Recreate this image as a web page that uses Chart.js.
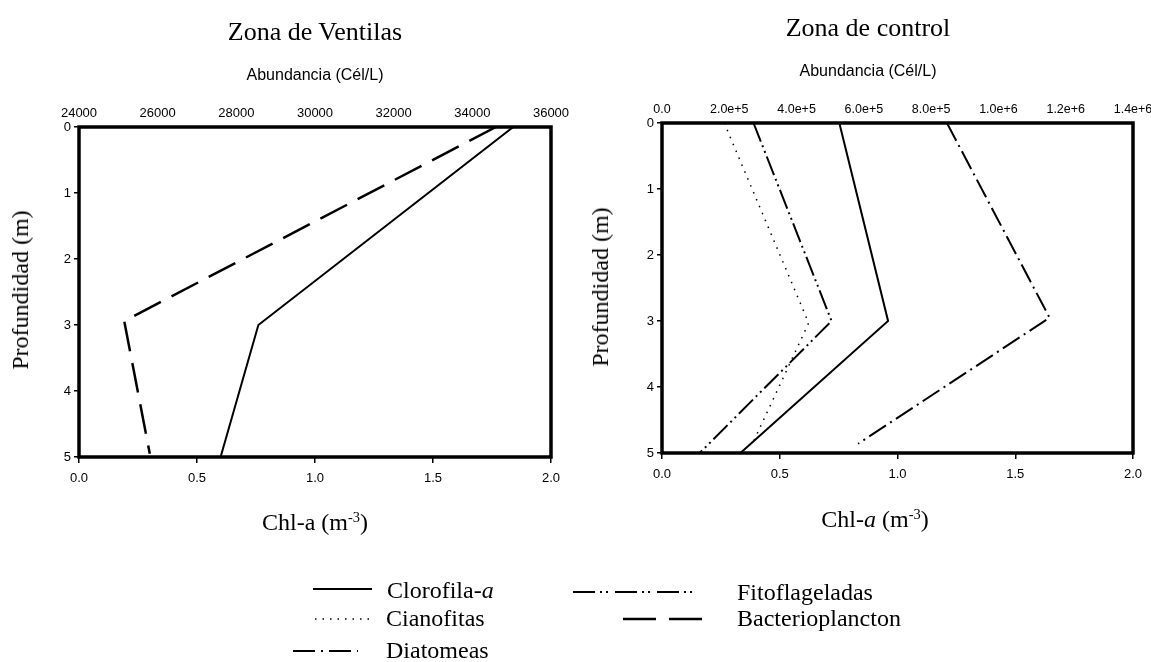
<!DOCTYPE html>
<html>
<head>
<meta charset="utf-8">
<script src="https://cdn.jsdelivr.net/npm/chart.js@4.4.1/dist/chart.umd.min.js"></script>
<style>
    html, body { margin: 0; padding: 0; background: #fff; overflow: hidden; }
    #wrap { position: relative; width: 1151px; height: 662px; overflow: hidden; }
    canvas { position: absolute; top: 0; }
    .t { position: absolute; white-space: nowrap; color: #000; line-height: 1; transform: translate(-50%, -50%); }
    .l { position: absolute; white-space: nowrap; color: #000; line-height: 1; transform: translateY(-50%); }
    .serif { font-family: "Liberation Serif", "Times New Roman", serif; font-size: 24px; }
    .big { font-size: 26px; }
    .sans { font-family: "Liberation Sans", Arial, sans-serif; font-size: 16px; }
    .rot { transform: translate(-50%, -50%) rotate(-90deg); }
    sup { font-size: 60%; vertical-align: 0; position: relative; top: -0.55em; }
</style>
</head>
<body>
<div id="wrap">
    <canvas id="vent" width="580" height="662" style="left:0"></canvas>
    <canvas id="ctrl" width="620" height="662" style="left:580px"></canvas>

    <div class="t serif big" style="left:315px;top:32px">Zona de Ventilas</div>
    <div class="t sans" style="left:315px;top:75px">Abundancia (Cél/L)</div>
    <div class="t serif rot" style="left:20px;top:290px">Profundidad (m)</div>
    <div class="t serif" style="left:315px;top:522px">Chl-a (m<sup>-3</sup>)</div>

    <div class="t serif big" style="left:868px;top:28px">Zona de control</div>
    <div class="t sans" style="left:868px;top:71px">Abundancia (Cél/L)</div>
    <div class="t serif rot" style="left:600px;top:287px">Profundidad (m)</div>
    <div class="t serif" style="left:875px;top:519px">Chl-<i>a</i> (m<sup>-3</sup>)</div>

    <svg width="1151" height="662" style="position:absolute;left:0;top:0">
        <line x1="313" y1="589" x2="372" y2="589" stroke="#000" stroke-width="2"/>
        <line x1="315" y1="619" x2="371" y2="619" stroke="#000" stroke-width="1.5" stroke-dasharray="1.5 6"/>
        <line x1="293" y1="651" x2="358" y2="651" stroke="#000" stroke-width="2" stroke-dasharray="22 6 2 6"/>
        <line x1="573" y1="592" x2="698" y2="592" stroke="#000" stroke-width="2" stroke-dasharray="22 5 2 4 2 7"/>
        <line x1="623" y1="619" x2="703" y2="619" stroke="#000" stroke-width="2.5" stroke-dasharray="33 13"/>
    </svg>
    <div class="l serif" style="left:387px;top:590px">Clorofila-<i>a</i></div>
    <div class="l serif" style="left:386px;top:618px">Cianofitas</div>
    <div class="l serif" style="left:386px;top:650px">Diatomeas</div>
    <div class="l serif" style="left:737px;top:592px">Fitoflageladas</div>
    <div class="l serif" style="left:737px;top:618px">Bacterioplancton</div>
</div>

<script>
    // Zona de Ventilas
    var ventDepth = [0, 3, 5]
    var ventChl = [1.84, 0.76, 0.60]
    var ventBactDepth = [0, 2.94, 4.95]
    var ventBact = [34600, 25150, 25800]

    // Zona de control
    var ctrlChlDepth = [0, 3, 5]
    var ctrlChl = [0.753, 0.96, 0.333]
    var ctrlCianoDepth = [0, 3.03, 4.87]
    var ctrlCiano = [185000, 436000, 268000]
    var ctrlFitoDepth = [0, 3, 5]
    var ctrlFito = [272000, 504000, 112000]
    var ctrlDiatDepth = [0, 2.95, 4.86]
    var ctrlDiat = [847000, 1152000, 583000]

    var depthTicks = [0, 1, 2, 3, 4, 5]
    var chlTicks = [0, 0.5, 1, 1.5, 2]

    var tickFont = { family: 'Liberation Sans, Arial, sans-serif', size: 13 }
    var expFont = { family: 'Liberation Sans, Arial, sans-serif', size: 12.5 }

    function pts(xs, ys) {
        return xs.map(function(x, i) { return { x: x, y: ys[i] } })
    }

    function line(data, axis, dash, width) {
        return {
            data: data,
            xAxisID: axis,
            showLine: true,
            borderColor: '#000',
            borderWidth: width || 2,
            borderDash: dash || [],
            pointRadius: 0,
            fill: false,
            tension: 0
        }
    }

    var frame = {
        id: 'frame',
        afterDatasetsDraw(chart) {
            var { ctx, chartArea } = chart
            ctx.save()
            ctx.strokeStyle = '#000'
            ctx.lineWidth = 3.5
            ctx.strokeRect(chartArea.left, chartArea.top, chartArea.right - chartArea.left, chartArea.bottom - chartArea.top)
            ctx.restore()
        }
    }

    function options(top, bottom, yWidth, rightPad, topAxis) {
        return {
            responsive: false,
            animation: false,
            layout: { padding: { left: 0, top: 0, right: rightPad, bottom: 0 } },
            plugins: { legend: { display: false }, tooltip: { enabled: false } },
            scales: {
                y: {
                    type: 'linear',
                    min: 0, max: 5,
                    reverse: true,
                    afterFit(s) { s.width = yWidth },
                    afterBuildTicks(s) { s.ticks = depthTicks.map(function(v) { return { value: v } }) },
                    ticks: { font: tickFont, color: '#000', padding: 3, callback: function(v) { return String(v) } },
                    grid: { drawOnChartArea: false, tickLength: 5, color: '#000', lineWidth: 1.5 },
                    border: { display: false }
                },
                xb: {
                    type: 'linear',
                    position: 'bottom',
                    min: 0, max: 2,
                    afterFit(s) { s.height = 662 - bottom },
                    afterBuildTicks(s) { s.ticks = chlTicks.map(function(v) { return { value: v } }) },
                    ticks: { font: tickFont, color: '#000', padding: 8, maxRotation: 0, callback: function(v) { return v.toFixed(1) } },
                    grid: { drawOnChartArea: false, tickLength: 6, color: '#000', lineWidth: 1.5 },
                    border: { display: false }
                },
                xt: Object.assign({
                    type: 'linear',
                    position: 'top',
                    afterFit(s) { s.height = top },
                    grid: { display: false, drawTicks: false },
                    border: { display: false }
                }, topAxis)
            }
        }
    }

    new Chart(document.getElementById('vent'), {
        type: 'scatter',
        data: {
            datasets: [
                line(pts(ventChl, ventDepth), 'xb'),
                line(pts(ventBact, ventBactDepth), 'xt', [30, 12], 2.5)
            ]
        },
        options: options(127, 457, 79, 29, {
            min: 24000, max: 36000,
            ticks: { stepSize: 2000, font: tickFont, color: '#000', padding: 6, maxRotation: 0, callback: function(v) { return String(v) } }
        }),
        plugins: [frame]
    })

    new Chart(document.getElementById('ctrl'), {
        type: 'scatter',
        data: {
            datasets: [
                line(pts(ctrlChl, ctrlChlDepth), 'xb'),
                line(pts(ctrlCiano, ctrlCianoDepth), 'xt', [1.5, 6], 1.5),
                line(pts(ctrlDiat, ctrlDiatDepth), 'xt', [20, 5, 2, 5]),
                line(pts(ctrlFito, ctrlFitoDepth), 'xt', [20, 4, 2, 4, 2, 4])
            ]
        },
        options: options(123, 453, 82, 67, {
            min: 0, max: 1400000,
            ticks: {
                stepSize: 200000, font: expFont, color: '#000', padding: 6, maxRotation: 0,
                callback: function(v) { return v === 0 ? '0.0' : v.toExponential(1) }
            }
        }),
        plugins: [frame]
    })
</script>
</body>
</html>
